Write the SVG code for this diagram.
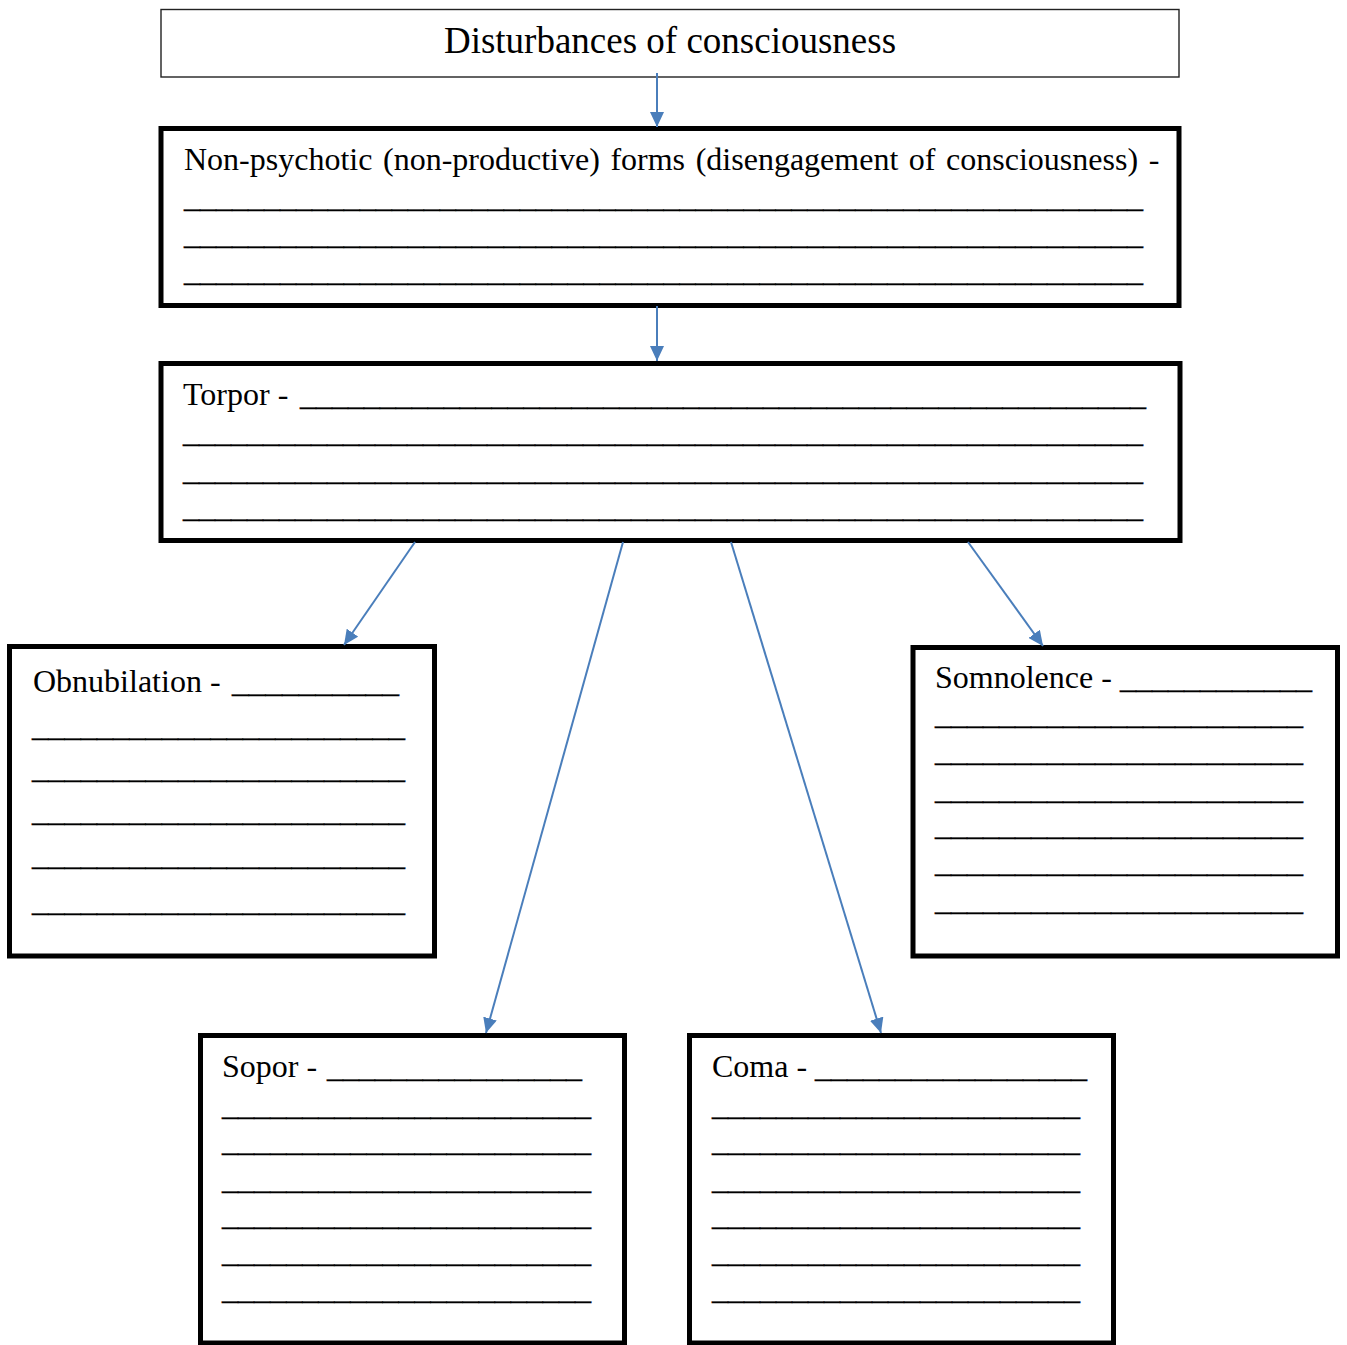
<svg xmlns="http://www.w3.org/2000/svg" width="1347" height="1345" viewBox="0 0 1347 1345">
<style>
  text { font-family: "Liberation Serif", "Times New Roman", serif; font-size: 32px; fill: #000; }
  .title { font-size: 37px; }
  .u { stroke: #000; stroke-width: 0.35; }
  .box { fill: #fff; stroke: #000; stroke-width: 5; }
  .thin { fill: #fff; stroke: #222; stroke-width: 1.4; }
  .conn { stroke: #4a7ebb; stroke-width: 2; fill: none; marker-end: url(#arrow); }
</style>
<defs>
  <marker id="arrow" markerUnits="userSpaceOnUse" markerWidth="16" markerHeight="14" refX="15" refY="7" orient="auto">
    <path d="M0,0 L15,7 L0,14 z" fill="#4a7ebb"/>
  </marker>
</defs>
<rect width="1347" height="1345" fill="#fff"/>

<g id="node-disturbances">
  <rect class="thin" x="161" y="9.5" width="1018" height="67.5"/>
  <text class="title" x="670" y="53" text-anchor="middle">Disturbances of consciousness</text>
</g>

<g id="node-nonpsychotic">
  <rect class="box" x="161" y="128.5" width="1018" height="177"/>
  <text x="184" y="170" word-spacing="2.6">Non-psychotic (non-productive) forms (disengagement of consciousness) -</text>
  <text class="u" x="184" y="206.5" textLength="959" lengthAdjust="spacingAndGlyphs">____________________________________________________________</text>
  <text class="u" x="184" y="243.5" textLength="959" lengthAdjust="spacingAndGlyphs">____________________________________________________________</text>
  <text class="u" x="184" y="280.5" textLength="959" lengthAdjust="spacingAndGlyphs">____________________________________________________________</text>
</g>

<g id="node-torpor">
  <rect class="box" x="161" y="363.5" width="1019" height="177"/>
  <text x="183" y="405">Torpor - </text>
  <text class="u" x="300" y="405" textLength="846" lengthAdjust="spacingAndGlyphs">_____________________________________________________</text>
  <text class="u" x="183" y="441.5" textLength="960" lengthAdjust="spacingAndGlyphs">____________________________________________________________</text>
  <text class="u" x="183" y="479.5" textLength="960" lengthAdjust="spacingAndGlyphs">____________________________________________________________</text>
  <text class="u" x="183" y="516.5" textLength="960" lengthAdjust="spacingAndGlyphs">____________________________________________________________</text>
</g>

<g id="node-obnubilation">
  <rect class="box" x="9.5" y="646.5" width="425" height="309.5"/>
  <text x="33" y="692">Obnubilation - </text>
  <text class="u" x="232" y="692" textLength="167" lengthAdjust="spacingAndGlyphs">__________</text>
  <text class="u" x="32" y="735.5" textLength="373" lengthAdjust="spacingAndGlyphs">_______________________</text>
  <text class="u" x="32" y="777.5" textLength="373" lengthAdjust="spacingAndGlyphs">_______________________</text>
  <text class="u" x="32" y="820.5" textLength="373" lengthAdjust="spacingAndGlyphs">_______________________</text>
  <text class="u" x="32" y="864.5" textLength="373" lengthAdjust="spacingAndGlyphs">_______________________</text>
  <text class="u" x="32" y="910.5" textLength="373" lengthAdjust="spacingAndGlyphs">_______________________</text>
</g>

<g id="node-somnolence">
  <rect class="box" x="913" y="647.5" width="424.5" height="308.5"/>
  <text x="935" y="688">Somnolence - </text>
  <text class="u" x="1120" y="688" textLength="192" lengthAdjust="spacingAndGlyphs">____________</text>
  <text class="u" x="935" y="723.5" textLength="368" lengthAdjust="spacingAndGlyphs">_______________________</text>
  <text class="u" x="935" y="760.5" textLength="368" lengthAdjust="spacingAndGlyphs">_______________________</text>
  <text class="u" x="935" y="798.5" textLength="368" lengthAdjust="spacingAndGlyphs">_______________________</text>
  <text class="u" x="935" y="834.5" textLength="368" lengthAdjust="spacingAndGlyphs">_______________________</text>
  <text class="u" x="935" y="871.5" textLength="368" lengthAdjust="spacingAndGlyphs">_______________________</text>
  <text class="u" x="935" y="909.5" textLength="368" lengthAdjust="spacingAndGlyphs">_______________________</text>
</g>

<g id="node-sopor">
  <rect class="box" x="200.5" y="1035.5" width="424" height="307.5"/>
  <text x="222" y="1077">Sopor - </text>
  <text class="u" x="327" y="1077" textLength="255" lengthAdjust="spacingAndGlyphs">________________</text>
  <text class="u" x="222" y="1114.5" textLength="369" lengthAdjust="spacingAndGlyphs">_______________________</text>
  <text class="u" x="222" y="1150.5" textLength="369" lengthAdjust="spacingAndGlyphs">_______________________</text>
  <text class="u" x="222" y="1188.5" textLength="369" lengthAdjust="spacingAndGlyphs">_______________________</text>
  <text class="u" x="222" y="1224.5" textLength="369" lengthAdjust="spacingAndGlyphs">_______________________</text>
  <text class="u" x="222" y="1261.5" textLength="369" lengthAdjust="spacingAndGlyphs">_______________________</text>
  <text class="u" x="222" y="1298.5" textLength="369" lengthAdjust="spacingAndGlyphs">_______________________</text>
</g>

<g id="node-coma">
  <rect class="box" x="689.5" y="1035.5" width="424" height="307.5"/>
  <text x="712" y="1077">Coma - </text>
  <text class="u" x="815" y="1077" textLength="272" lengthAdjust="spacingAndGlyphs">_________________</text>
  <text class="u" x="712" y="1114.5" textLength="368" lengthAdjust="spacingAndGlyphs">_______________________</text>
  <text class="u" x="712" y="1150.5" textLength="368" lengthAdjust="spacingAndGlyphs">_______________________</text>
  <text class="u" x="712" y="1188.5" textLength="368" lengthAdjust="spacingAndGlyphs">_______________________</text>
  <text class="u" x="712" y="1224.5" textLength="368" lengthAdjust="spacingAndGlyphs">_______________________</text>
  <text class="u" x="712" y="1261.5" textLength="368" lengthAdjust="spacingAndGlyphs">_______________________</text>
  <text class="u" x="712" y="1298.5" textLength="368" lengthAdjust="spacingAndGlyphs">_______________________</text>
</g>

<g id="connectors">
  <line class="conn" x1="657" y1="73" x2="657" y2="127"/>
  <line class="conn" x1="657" y1="306" x2="657" y2="361"/>
  <line class="conn" x1="415" y1="542" x2="344" y2="645"/>
  <line class="conn" x1="623" y1="542" x2="486" y2="1033"/>
  <line class="conn" x1="731" y1="542" x2="881" y2="1033"/>
  <line class="conn" x1="968" y1="542" x2="1043" y2="646"/>
</g>
</svg>
